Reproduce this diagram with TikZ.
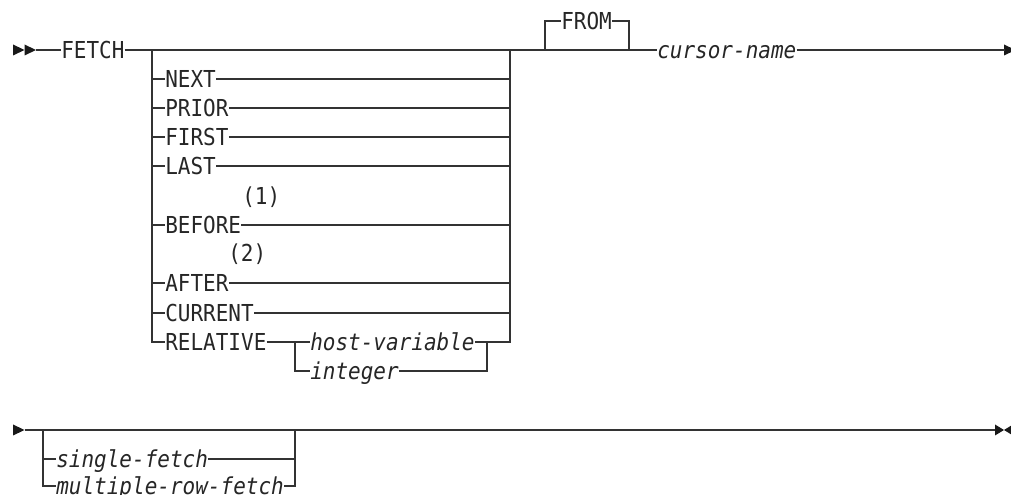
\documentclass[tikz,border=0pt]{standalone}
\usepackage{fontspec}
\setmonofont{DejaVu Sans Mono}[FakeStretch=0.9]
\begin{document}
\begin{tikzpicture}[x=0.75pt,y=-0.75pt,
  line/.style={draw=black!80,line width=0.85pt},
  kw/.style={font=\ttfamily\fontsize{17.5pt}{17.5pt}\selectfont,text=black!85,inner sep=0pt,text height=12.6pt,text depth=0pt,anchor=west},
  var/.style={kw,font=\ttfamily\itshape\fontsize{17.5pt}{17.5pt}\selectfont},
  tip/.style={fill=black!90,draw=none}]
\useasboundingbox (0,0) rectangle (1011,495);

% ---------- row 1 ----------
\fill[tip] (13,44.5) -- (24.5,50) -- (13,55.5) -- cycle;
\fill[tip] (24.5,44.5) -- (36,50) -- (24.5,55.5) -- cycle;
\coordinate (s1) at (36,50);
\node[kw] (FETCH) at (61,50) {FETCH};
\coordinate (bl) at (152,50);
\coordinate (br) at (510,50);
\coordinate (fl) at (545,50);
\coordinate (fr) at (629,50);
\coordinate (ft) at (0,21);
\node[kw] (FROM) at (561,21) {FROM};
\node[var] (cn) at (657,50) {cursor-name};
\coordinate (e1) at (1005,50);
\fill[tip] (1004,44.5) -- (1015.5,50) -- (1004,55.5) -- cycle;

\draw[line] (s1) -- (FETCH.west);
\draw[line] (FETCH.east) -- (cn.west);
\draw[line] (cn.east) -- (e1);
\draw[line] (fl) |- (FROM.west |- ft);
\draw[line] (FROM.east |- ft) -| (fr);

% big choice box
\foreach \t/\y in {NEXT/79,PRIOR/108,FIRST/137,LAST/166,BEFORE/225,AFTER/283,CURRENT/313}{
  \node[kw] (\t) at (165,\y) {\t};
  \draw[line] (152,\y) -- (\t.west);
  \draw[line] (\t.east) -- (510,\y);
}
\node[kw] (n1) at (242,196) {(1)};
\node[kw] (n2) at (228,253) {(2)};

\node[kw] (REL) at (165,342) {RELATIVE};
\node[var] (hv) at (310,342) {host-variable};
\node[var] (int) at (310,371) {integer};
\coordinate (il) at (295,342);
\coordinate (ir) at (487,342);
\coordinate (bb) at (152,342);
\coordinate (rb) at (510,342);
\draw[line] (bl) -- (bb) -- (REL.west);
\draw[line] (REL.east) -- (hv.west);
\draw[line] (hv.east) -- (rb) -- (br);
\draw[line] (il) |- (int.west);
\draw[line] (int.east) -| (ir);

% ---------- row 2 ----------
\fill[tip] (13,424.5) -- (24.5,430) -- (13,435.5) -- cycle;
\coordinate (s2) at (24.5,430);
\coordinate (l2) at (43,430);
\coordinate (r2) at (295,430);
\coordinate (e2) at (995,430);
\node[var] (sf) at (56,459) {single-fetch};
\node[var] (mf) at (56,486) {multiple-row-fetch};
\draw[line] (s2) -- (e2);
\draw[line] (l2) |- (mf.west);
\draw[line] (l2 |- sf.west) -- (sf.west);
\draw[line] (sf.east) -- (r2 |- sf.west);
\draw[line] (mf.east) -| (r2);
\fill[tip] (995,424.5) -- (1004,430) -- (995,435.5) -- cycle;
\fill[tip] (1013,424.5) -- (1004,430) -- (1013,435.5) -- cycle;
\end{tikzpicture}
\end{document}
